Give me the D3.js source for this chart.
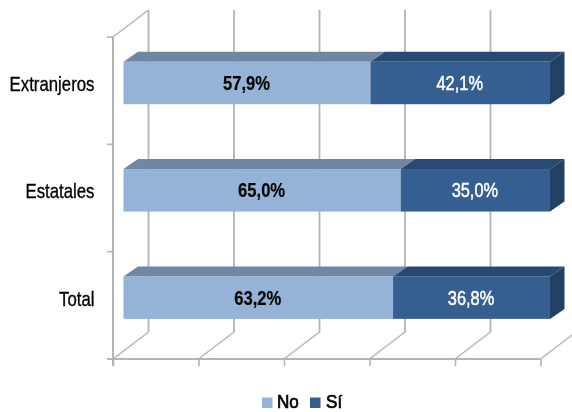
<!DOCTYPE html>
<html><head><meta charset="utf-8">
<script src="https://cdn.jsdelivr.net/npm/d3@7"></script>
<style>
html,body{margin:0;padding:0;background:#fff}
svg{display:block}
text{font-family:"Liberation Sans",Arial,sans-serif}
.domain{display:none}
</style></head><body>
<svg id="c" width="572" height="412"></svg>
<script>
const categories = ["Extranjeros", "Estatales", "Total"];
const noValues = [57.9, 65.0, 63.2];
const siValues = [42.1, 35.0, 36.8];
const valueTicks = [0, 20, 40, 60, 80, 100];
const seriesNames = ["No", "Sí"];
const seriesColors = ["#95b3d7", "#355f91"];
const topColors = ["#7086a3", "#2b4a72"];
const sideColor = "#243f64";
const axisColor = "#b4b4b4";

const svg = d3.select("#c");
const root = svg.append("g");
const defs = svg.append("defs");
defs.append("filter").attr("id","soft").append("feGaussianBlur").attr("stdDeviation",0.35);
root.attr("filter","url(#soft)");

const place = (x,y,k) => `translate(${x},${y}) scale(${k},1)`;

const dx = 35.5, dy = -27;          // wall depth
const bdx = 14.5, bdy = -10;        // bar depth
const x0 = 113, x1 = 540.5, yTop = 37, yBot = 359;
const xFront = d3.scaleLinear().domain([0,100]).range([x0,x1]);
const xBar = d3.scaleLinear().domain([0,100]).range([123.5,550]);
const y = d3.scaleBand().domain(categories).range([yTop,yBot]);
const barH = 42.5, barShift = -7.7;
const barY = c => y(c) + y.bandwidth()/2 - barH/2 + barShift;

// back wall gridlines
root.append("g").selectAll("line").data(valueTicks).join("line")
  .attr("x1",d=>xFront(d)+dx).attr("x2",d=>xFront(d)+dx)
  .attr("y1",yTop+dy).attr("y2",yBot+dy)
  .attr("stroke",axisColor).attr("stroke-width",1.8);
// floor diagonals
root.append("g").selectAll("line").data(valueTicks).join("line")
  .attr("x1",d=>xFront(d)).attr("x2",d=>xFront(d)+dx)
  .attr("y1",yBot).attr("y2",yBot+dy)
  .attr("stroke",axisColor).attr("stroke-width",1.5);
// top-left wall diagonal
root.append("line").attr("x1",x0).attr("y1",yTop).attr("x2",x0+dx).attr("y2",yTop+dy)
  .attr("stroke",axisColor).attr("stroke-width",1.5);

// axes
const bottom = d3.axisBottom(xFront).tickValues(valueTicks).tickSize(7).tickFormat("");
const gb = root.append("g").attr("transform",`translate(0,${yBot})`).call(bottom);
gb.selectAll("line").attr("stroke",axisColor).attr("stroke-width",1.6);
root.append("line").attr("x1",x0-6).attr("x2",x1).attr("y1",yBot).attr("y2",yBot)
  .attr("stroke",axisColor).attr("stroke-width",2);
root.append("line").attr("x1",x0).attr("x2",x0).attr("y1",yTop).attr("y2",yBot+7)
  .attr("stroke",axisColor).attr("stroke-width",2);
root.append("g").selectAll("line").data(d3.range(categories.length+1)).join("line")
  .attr("x1",x0-6).attr("x2",x0)
  .attr("y1",i=>yTop+i*y.step()).attr("y2",i=>yTop+i*y.step())
  .attr("stroke",axisColor).attr("stroke-width",1.6);

// bars
const stack = categories.map((c,i)=>({c,parts:[
  {s:0,a:0,b:noValues[i],v:noValues[i]},
  {s:1,a:noValues[i],b:noValues[i]+siValues[i],v:siValues[i]}]}));
const poly = pts => pts.map(p=>p.join(",")).join(" ");
const bars = root.append("g").selectAll("g").data(stack).join("g");
bars.each(function(d){
  const g = d3.select(this), t = barY(d.c);
  d.parts.forEach(p=>{
    const a = xBar(p.a), b = xBar(p.b);
    g.append("polygon").attr("points",poly([[a,t],[a+bdx,t+bdy],[b+bdx,t+bdy],[b,t]])).attr("fill",topColors[p.s]);
  });
  d.parts.forEach(p=>{
    const a = xBar(p.a), b = xBar(p.b);
    g.append("rect").attr("x",a).attr("y",t).attr("width",b-a).attr("height",barH).attr("fill",seriesColors[p.s]);
    g.append("text").attr("transform",place((a+b)/2+(p.s?-0.5:-0.5),t+barH/2+7,p.s?0.82:0.83)).attr("text-anchor","middle")
      .attr("font-size",20).attr("font-weight",p.s?400:700)
      .attr("fill",p.s?"#fff":"#000").attr("stroke",p.s?"#fff":"#000").attr("stroke-width",p.s?0.5:0.2)
      .text(d3.format(".1f")(p.v).replace(".",",")+"%");
  });
  const e = xBar(100);
  g.append("polygon").attr("points",poly([[e,t],[e+bdx,t+bdy],[e+bdx,t+barH+bdy],[e,t+barH]])).attr("fill",sideColor);
  g.append("text").attr("transform",place(94.5,t+barH/2+8,0.84)).attr("text-anchor","end")
    .attr("font-size",20).attr("fill","#000").attr("stroke","#000").attr("stroke-width",0.35)
    .text(d.c);
});

// legend
const lx = [262,310], tx = [277,326];
const leg = root.append("g").selectAll("g").data(seriesNames).join("g");
leg.append("rect").attr("x",(d,i)=>lx[i]).attr("y",397.5).attr("width",10.5).attr("height",10.5).attr("fill",(d,i)=>seriesColors[i]);
leg.append("text").attr("transform",(d,i)=>place(tx[i],408.3,0.95)).attr("font-size",18)
  .attr("stroke","#000").attr("stroke-width",0.7).attr("fill","#000").text(d=>d);
</script>
</body></html>
